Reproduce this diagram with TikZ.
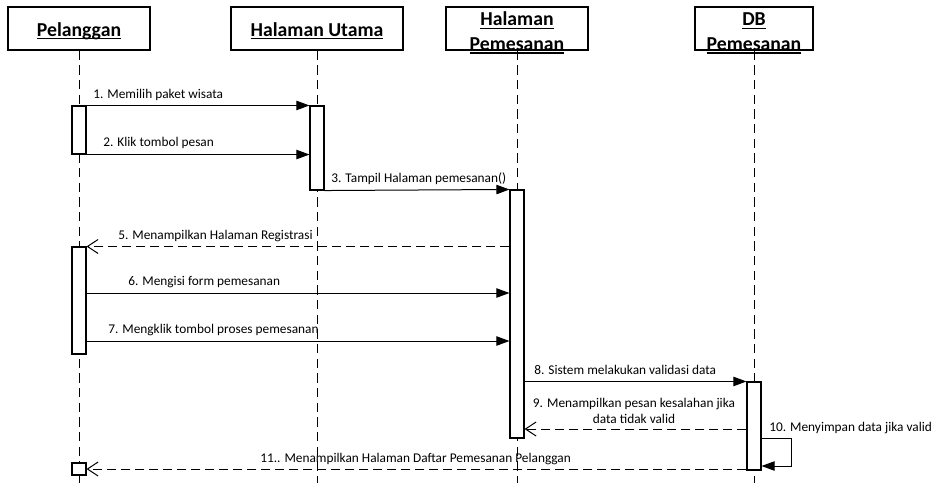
\documentclass[tikz,border=0pt]{standalone}
\usepackage{fontspec}
\setmainfont{Carlito}
\usetikzlibrary{arrows.meta,fit}
\newlength{\myulw}
\newcommand{\myul}[1]{\settowidth{\myulw}{#1}\rlap{\rule[-2.2pt]{\myulw}{0.9pt}}#1}
\begin{document}
\begin{tikzpicture}[x=0.75pt,y=-0.75pt,
 head/.style={draw, line width=0.9pt, inner sep=0pt, minimum height=32.25pt, font=\fontsize{14.8}{18}\selectfont\bfseries},
 one/.style={text height=12pt, text depth=0.6pt},
 two/.style={yshift=-3.6pt, font=\fontsize{14.8}{18.5}\selectfont\bfseries, inner sep=0pt},
 life/.style={line width=0.75pt, dash pattern=on 7pt off 4pt},
 act/.style={draw, fill=white, line width=0.8pt, inner sep=0pt},
 call/.style={line width=0.75pt, -{Triangle[length=9.75pt,width=7pt]}},
 ret/.style={line width=0.75pt, dash pattern=on 7pt off 3.5pt, -{Straight Barb[length=8pt,width=10.5pt]}},
 lbl/.style={anchor=base west, inner sep=0pt, font=\fontsize{10}{12}\selectfont},
]
\useasboundingbox (0,0) rectangle (934,483);
% heads
\node[head, one, minimum width=106.5pt] (pel) at (79,28.5) {\myul{Pelanggan}};
\node[head, one, minimum width=129pt] (hu) at (317,28.5) {\myul{Halaman Utama}};
\node[head, minimum width=106.5pt] (hp) at (517,28.5) {};
\node[head, minimum width=88.5pt] (db) at (754,28.5) {};
\node[two] (hpt) at (hp.center) {\begin{tabular}{@{}c@{}}\myul{Halaman}\\\myul{Pemesanan}\end{tabular}};
\node[two] (dbt) at (db.center) {\begin{tabular}{@{}c@{}}\myul{DB}\\\myul{Pemesanan}\end{tabular}};
% lifelines
\coordinate (bot) at (0,483);
\draw[life] (pel.south) -- (pel.south |- bot);
\draw[life] (hu.south) -- (hu.south |- bot);
\draw[life] (hp.south) -- (hp.south |- bot);
\draw[life] (db.south) -- (db.south |- bot);
% activations
\node[act, fit={(72,106)(86,154)}] (p1) {};
\node[act, fit={(72,247)(86,354)}] (p2) {};
\node[act, fit={(72,463)(86,475)}] (p3) {};
\node[act, fit={(310,106)(324,190)}] (hu1) {};
\node[act, fit={(510,190)(524,438)}] (hp1) {};
\node[act, fit={(747,382)(761,470)}] (db1) {};
% message levels
\coordinate (y6) at (0,293);
\coordinate (y7) at (0,341);
\coordinate (y9) at (0,429);
\coordinate (y10a) at (0,438);
\coordinate (y10b) at (0,466);
% messages
\draw[call] (p1.north east) -- (hu1.north west);
\node[lbl] (l1) at (93,98) {1. Memilih paket wisata};
\draw[call] (p1.south east) -- (hu1.west |- p1.south);
\node[lbl] (l2) at (103,146) {2. Klik tombol pesan};
\draw[call] (hu1.south east) -- (hp1.north west);
\node[lbl] (l3) at (331,182) {3. Tampil Halaman pemesanan()};
\draw[ret] (hp1.west |- p2.north) -- (p2.north east);
\node[lbl] (l5) at (118,239) {5. Menampilkan Halaman Registrasi};
\draw[call] (p2.east |- y6) -- (hp1.west |- y6);
\node[lbl] (l6) at (128,285) {6. Mengisi form pemesanan};
\draw[call] (p2.east |- y7) -- (hp1.west |- y7);
\node[lbl] (l7) at (108,333) {7. Mengklik tombol proses pemesanan};
\draw[call] (hp1.east |- db1.north) -- (db1.north west);
\node[lbl] (l8) at (534,374) {8. Sistem melakukan validasi data};
\draw[ret] (db1.west |- y9) -- (hp1.east |- y9);
\node[anchor=base, inner sep=0pt, align=center, font=\fontsize{10}{12}\selectfont] (l9) at (634,423) {9. Menampilkan pesan kesalahan jika\\data tidak valid};
\draw[call] (db1.east |- y10a) -- ++(30,0) |- (db1.east |- y10b);
\node[lbl] (l10) at (769,431) {10. Menyimpan data jika valid};
\draw[ret] (db1.west |- p3.center) -- (p3.east);
\node[lbl] (l11) at (260,462) {11.. Menampilkan Halaman Daftar Pemesanan Pelanggan};
\end{tikzpicture}
\end{document}
